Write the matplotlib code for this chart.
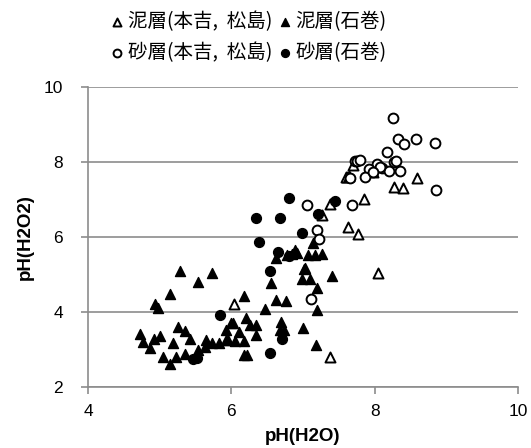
import matplotlib

matplotlib.use("Agg")

import matplotlib.pyplot as plt

plt.rcParams["font.family"] = ["Noto Sans CJK JP", "DejaVu Sans"]

# 泥層(本吉, 松島) - open triangles
mud_mm_x = [7.61, 7.70, 7.97, 8.27, 8.40, 8.59, 7.85, 7.38, 7.63, 7.77, 8.05,
            7.38, 6.04, 7.27, 7.60, 7.64, 7.96]
mud_mm_y = [7.59, 7.92, 7.74, 7.34, 7.30, 7.58, 7.01, 6.87, 6.26, 6.07, 5.03,
            2.81, 4.21, 6.59, 7.59, 7.62, 7.77]

# 泥層(石巻) - filled triangles
mud_is_x = [5.28, 5.73, 5.54, 5.15, 4.93, 4.98, 6.17, 4.72, 4.77, 4.86, 4.92,
            5.01, 5.18, 5.25, 5.35, 5.43, 5.05, 5.15, 5.23, 5.35, 5.54, 5.65,
            5.63, 5.73, 5.83, 5.93, 6.00, 6.11, 6.05, 5.93, 6.18, 6.21, 6.26,
            6.35, 6.34, 6.17, 6.22, 6.47, 6.63, 6.76, 6.69, 6.68, 6.73, 6.56,
            6.63, 6.77, 6.84, 6.91, 7.01, 6.99, 7.10, 7.19, 7.40, 7.20, 7.00,
            7.18, 7.07, 7.17, 7.26, 7.14, 7.03, 6.89, 6.03, 5.96]
mud_is_y = [5.08, 5.03, 4.81, 4.47, 4.21, 4.10, 4.43, 3.41, 3.19, 3.03, 3.28,
            3.36, 3.16, 3.61, 3.50, 3.28, 2.81, 2.61, 2.79, 2.87, 2.99, 3.25,
            3.06, 3.18, 3.16, 3.52, 3.70, 3.47, 3.23, 3.25, 3.23, 3.83, 3.65,
            3.65, 3.39, 2.85, 2.85, 4.08, 4.32, 4.28, 3.74, 3.52, 3.52, 4.76,
            5.43, 5.52, 5.55, 5.57, 5.14, 4.87, 4.87, 4.63, 4.96, 4.05, 3.57,
            3.12, 5.52, 5.52, 5.55, 5.83, 5.17, 5.65, 3.70, 3.25]

# 砂層(本吉, 松島) - open circles
sand_mm_x = [8.26, 8.33, 8.41, 8.58, 8.17, 7.72, 7.76, 7.79, 8.27, 8.30, 8.03,
             7.92, 8.10, 8.20, 8.35, 7.86, 7.65, 7.06, 7.69, 7.20, 7.22, 8.86,
             8.84, 8.07, 7.97, 7.11]
sand_mm_y = [9.17, 8.61, 8.47, 8.61, 8.26, 8.03, 8.03, 8.05, 8.01, 8.03, 7.94,
             7.81, 7.83, 7.77, 7.76, 7.61, 7.57, 6.85, 6.85, 6.19, 5.94, 7.25,
             8.51, 7.86, 7.74, 4.34]

# 砂層(石巻) - filled circles
sand_is_x = [6.81, 6.34, 6.68, 6.39, 6.65, 6.81, 6.99, 7.44, 7.21, 6.54, 5.84,
             6.71, 6.54, 5.47, 5.52]
sand_is_y = [7.05, 6.51, 6.51, 5.87, 5.61, 5.50, 6.10, 6.96, 6.62, 5.08, 3.93,
             3.27, 2.90, 2.74, 2.76]

labels = ["泥層(本吉,  松島)", "砂層(本吉,  松島)", "泥層(石巻)", "砂層(石巻)"]

fig = plt.figure(figsize=(5.31, 4.48), dpi=100)
ax = fig.add_axes([0.1657, 0.1362, 0.8098, 0.6696])

edge = 1.4
h1 = ax.scatter(mud_mm_x, mud_mm_y, marker="^", s=52, facecolors="white",
                edgecolors="black", linewidths=edge, zorder=3)
h3 = ax.scatter(mud_is_x, mud_is_y, marker="^", s=52, color="black", zorder=3)
h2 = ax.scatter(sand_mm_x, sand_mm_y, marker="o", s=50, facecolors="white",
                edgecolors="black", linewidths=edge, zorder=3)
h4 = ax.scatter(sand_is_x, sand_is_y, marker="o", s=50, color="black", zorder=3)

ax.set_xlim(4, 10)
ax.set_ylim(2, 10)
ax.set_xticks([4, 6, 8, 10])
ax.set_yticks([2, 4, 6, 8, 10])
ax.grid(axis="y", color="#8c8c8c", linewidth=1.2)
ax.set_axisbelow(True)
for side in ["top", "right"]:
    ax.spines[side].set_visible(False)
for side in ["left", "bottom"]:
    ax.spines[side].set_color("#8c8c8c")
    ax.spines[side].set_linewidth(1.2)
ax.tick_params(colors="#8c8c8c", length=5, width=1.2, labelcolor="black",
               labelsize=12.5)
ax.tick_params(axis="y", pad=13)
ax.tick_params(axis="x", pad=7)
for t in ax.get_xticklabels() + ax.get_yticklabels():
    t.set_family("Liberation Sans")

ax.set_xlabel("pH(H2O)", fontsize=13.5, fontweight="bold",
              family="Liberation Sans", labelpad=7)
ax.set_ylabel("pH(H2O2)", fontsize=13.5, fontweight="bold",
              family="Liberation Sans", labelpad=7)

fig.legend([h1, h2, h3, h4], labels, ncol=2, loc="upper center",
           bbox_to_anchor=(0.47, 1.015), frameon=False, fontsize=14,
           markerscale=0.8, handlelength=0.5, handletextpad=0.3,
           columnspacing=0.4, labelspacing=0.55)

fig.savefig("out.png", dpi=100)
